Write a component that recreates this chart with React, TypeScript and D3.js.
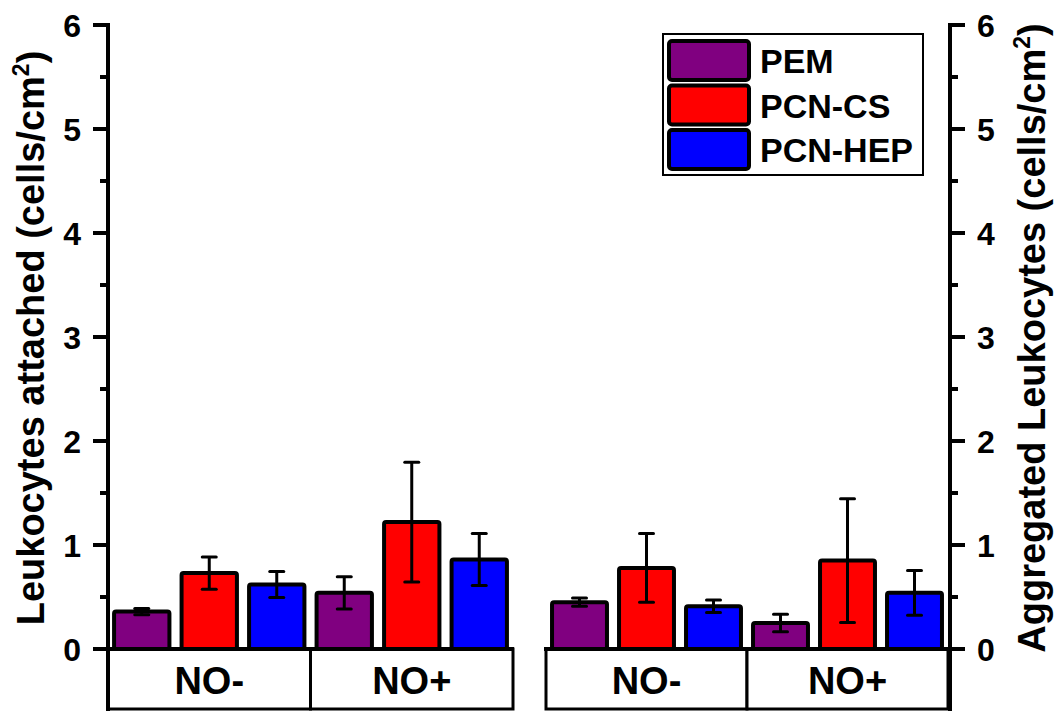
import { useRef, useEffect } from "react";
import * as d3 from "d3";

// categories and series
const groups = ["NO-", "NO+"];
const seriesNames = ["PEM", "PCN-CS", "PCN-HEP"];
const seriesColors = ["#800080", "#ff0000", "#0000ff"];

// left panel: leukocytes attached (cells/cm2)
const attachedMean = [
  [0.36, 0.54],
  [0.73, 1.22],
  [0.62, 0.86],
];
const attachedErr = [
  [0.03, 0.155],
  [0.155, 0.575],
  [0.125, 0.25],
];

// right panel: aggregated leukocytes (cells/cm2)
const aggregatedMean = [
  [0.45, 0.25],
  [0.78, 0.85],
  [0.41, 0.54],
];
const aggregatedErr = [
  [0.04, 0.085],
  [0.33, 0.595],
  [0.06, 0.215],
];

const yTicks = [0, 1, 2, 3, 4, 5, 6];
const yMinorTicks = [0.5, 1.5, 2.5, 3.5, 4.5, 5.5];

export default function App() {
  const svgRef = useRef<SVGSVGElement>(null);

  useEffect(() => {
    const width = 1055;
    const height = 711;
    const svg = d3.select(svgRef.current);
    svg.selectAll("*").remove();
    svg.attr("width", width).attr("height", height);

    const font = "'Liberation Sans', Arial, sans-serif";
    const y = d3.scaleLinear().domain([0, 6]).range([649, 25]);
    const boxBottom = 709;

    const drawPanel = (
      x0: number,
      x1: number,
      means: number[][],
      errs: number[][]
    ) => {
      const xGroup = d3.scaleBand<string>().domain(groups).range([x0, x1]);
      const xSeries = d3
        .scaleBand<string>()
        .domain(seriesNames)
        .range([0, xGroup.bandwidth()])
        .paddingInner(0.18)
        .paddingOuter(0.09);

      const g = svg.append("g");

      // bars
      seriesNames.forEach((s, si) => {
        groups.forEach((grp, gi) => {
          const bx = (xGroup(grp) ?? 0) + (xSeries(s) ?? 0);
          const v = means[si][gi];
          g.append("rect")
            .attr("x", bx)
            .attr("y", y(v))
            .attr("width", xSeries.bandwidth())
            .attr("height", y(0) - y(v))
            .attr("rx", 2)
            .attr("fill", seriesColors[si])
            .attr("stroke", "black")
            .attr("stroke-width", 4);

          // error bars
          const cx = bx + xSeries.bandwidth() / 2;
          const e = errs[si][gi];
          g.append("line")
            .attr("x1", cx)
            .attr("x2", cx)
            .attr("y1", y(v + e))
            .attr("y2", y(v - e))
            .attr("stroke", "black")
            .attr("stroke-width", 3);
          [v + e, v - e].forEach((yy) => {
            g.append("line")
              .attr("x1", cx - 7)
              .attr("x2", cx + 7)
              .attr("y1", y(yy))
              .attr("y2", y(yy))
              .attr("stroke", "black")
              .attr("stroke-width", 3)
              .attr("stroke-linecap", "round");
          });
        });
      });

      // category boxes
      groups.forEach((grp) => {
        const gx = xGroup(grp) ?? 0;
        g.append("rect")
          .attr("x", gx)
          .attr("y", y(0))
          .attr("width", xGroup.bandwidth())
          .attr("height", boxBottom - y(0))
          .attr("fill", "white")
          .attr("stroke", "black")
          .attr("stroke-width", 3);
        g.append("text")
          .attr("x", gx + xGroup.bandwidth() / 2)
          .attr("y", 694)
          .attr("text-anchor", "middle")
          .attr("font-family", font)
          .attr("font-weight", "bold")
          .attr("font-size", 38)
          .text(grp);
      });
    };

    drawPanel(108, 513, attachedMean, attachedErr);
    drawPanel(546, 948, aggregatedMean, aggregatedErr);

    // baselines
    svg.append("line")
      .attr("x1", 93).attr("x2", 514)
      .attr("y1", y(0)).attr("y2", y(0))
      .attr("stroke", "black").attr("stroke-width", 4);
    svg.append("line")
      .attr("x1", 544).attr("x2", 965)
      .attr("y1", y(0)).attr("y2", y(0))
      .attr("stroke", "black").attr("stroke-width", 4);

    // left axis
    const leftAxis = svg.append("g");
    leftAxis.append("line")
      .attr("x1", 108).attr("x2", 108)
      .attr("y1", y(6) - 2).attr("y2", height)
      .attr("stroke", "black").attr("stroke-width", 4);
    yTicks.forEach((t) => {
      leftAxis.append("line")
        .attr("x1", 93).attr("x2", 108)
        .attr("y1", y(t)).attr("y2", y(t))
        .attr("stroke", "black").attr("stroke-width", 4);
      leftAxis.append("text")
        .attr("x", 81).attr("y", y(t))
        .attr("dy", "0.36em")
        .attr("text-anchor", "end")
        .attr("font-family", font)
        .attr("font-weight", "bold")
        .attr("font-size", 32)
        .text(t);
    });
    yMinorTicks.forEach((t) => {
      leftAxis.append("line")
        .attr("x1", 100).attr("x2", 108)
        .attr("y1", y(t)).attr("y2", y(t))
        .attr("stroke", "black").attr("stroke-width", 4);
    });

    // right axis
    const rightAxis = svg.append("g");
    rightAxis.append("line")
      .attr("x1", 950).attr("x2", 950)
      .attr("y1", y(6) - 2).attr("y2", height)
      .attr("stroke", "black").attr("stroke-width", 4);
    yTicks.forEach((t) => {
      rightAxis.append("line")
        .attr("x1", 950).attr("x2", 965)
        .attr("y1", y(t)).attr("y2", y(t))
        .attr("stroke", "black").attr("stroke-width", 4);
      rightAxis.append("text")
        .attr("x", 977).attr("y", y(t))
        .attr("dy", "0.36em")
        .attr("text-anchor", "start")
        .attr("font-family", font)
        .attr("font-weight", "bold")
        .attr("font-size", 32)
        .text(t);
    });
    yMinorTicks.forEach((t) => {
      rightAxis.append("line")
        .attr("x1", 950).attr("x2", 958)
        .attr("y1", y(t)).attr("y2", y(t))
        .attr("stroke", "black").attr("stroke-width", 4);
    });

    // axis titles
    const title = (x: number, label: string) => {
      const t = svg.append("text")
        .attr("transform", `translate(${x},338) rotate(-90)`)
        .attr("text-anchor", "middle")
        .attr("font-family", font)
        .attr("font-weight", "bold")
        .attr("font-size", 38);
      t.append("tspan").text(label);
      t.append("tspan").attr("font-size", 23).attr("dy", -15).text("2");
      t.append("tspan").attr("dy", 15).text(")");
    };
    title(44, "Leukocytes attached (cells/cm");
    title(1045, "Aggregated Leukocytes (cells/cm");

    // legend
    const legend = svg.append("g");
    legend.append("rect")
      .attr("x", 663).attr("y", 34)
      .attr("width", 260).attr("height", 141)
      .attr("fill", "white")
      .attr("stroke", "black")
      .attr("stroke-width", 2);
    seriesNames.forEach((s, i) => {
      const ry = 41 + i * 44.5;
      legend.append("rect")
        .attr("x", 669).attr("y", ry)
        .attr("width", 80).attr("height", 39)
        .attr("rx", 3)
        .attr("fill", seriesColors[i])
        .attr("stroke", "black")
        .attr("stroke-width", 4);
      legend.append("text")
        .attr("x", 760).attr("y", ry + 32)
        .attr("font-family", font)
        .attr("font-weight", "bold")
        .attr("font-size", 34)
        .text(s);
    });
  }, []);

  return (
    <svg
      ref={svgRef}
      style={{ position: "absolute", left: 0, top: 0, background: "white" }}
    ></svg>
  );
}
